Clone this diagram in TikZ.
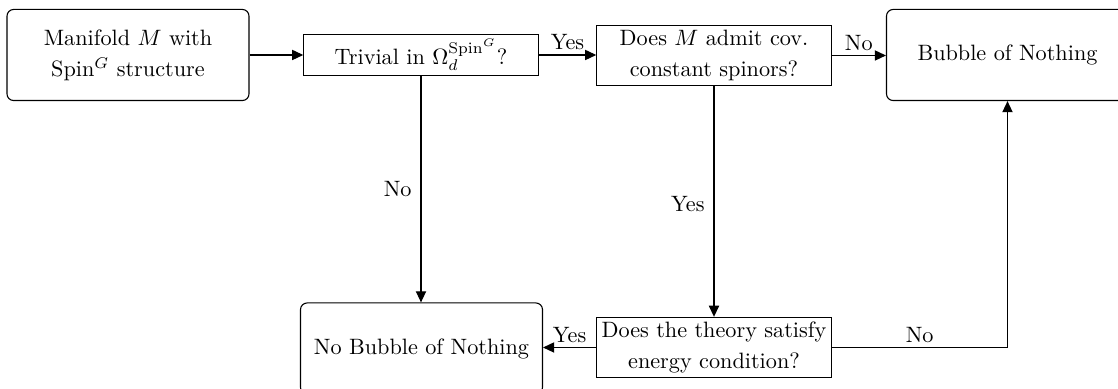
\documentclass[tikz,border=0pt]{standalone}
\usetikzlibrary{arrows.meta}
\begin{document}
\begin{tikzpicture}[x=0.45pt,y=-0.45pt,
  every node/.style={font={\fontsize{10}{14}\selectfont}},
  endbox/.style={draw, rounded corners=3pt, align=center, minimum width=108.9pt, minimum height=41pt, inner sep=2pt, line width=0.5pt},
  askbox/.style={draw, align=center, minimum width=105.5pt, inner sep=2pt, line width=0.5pt},
  conn/.style={line width=0.5pt, -{Triangle[length=5pt,width=4.6pt]}},
  lbl/.style={inner sep=2pt}]
\useasboundingbox (0,0) rectangle (1118,389);
\node[endbox] (start) at (128,55) {Manifold $M$ with\\ Spin$^G$ structure};
\node[askbox, minimum height=18.5pt] (triv) at (421,55) {Trivial in $\Omega_d^{\mathrm{Spin}^G}$?};
\node[askbox, minimum height=26.5pt] (spin) at (714,55.5) {Does $M$ admit cov.\\ constant spinors?};
\node[endbox] (bon) at (1007.5,55) {Bubble of Nothing};
\node[endbox] (nobon) at (421.5,348.5) {No Bubble of Nothing};
\node[askbox, minimum height=26.5pt] (energy) at (714,347.5) {Does the theory satisfy\\ energy condition?};
\draw[conn] (start) -- (triv);
\draw[conn] (triv) -- node[above, lbl] {Yes} (triv -| spin.west);
\draw[conn] (spin) -- node[above, lbl] {No} (spin -| bon.west);
\draw[conn] (triv.south) -- node[left, lbl, xshift=-2pt] {No} (triv.south |- nobon.north);
\draw[conn] (spin.south) -- node[left, lbl, xshift=-2pt, yshift=-1pt] {Yes} (spin.south |- energy.north);
\draw[conn] (energy.west) -- node[above, lbl] {Yes} (energy.west -| nobon.east);
\draw[conn] (energy.east) -| node[pos=0.25, above, lbl] {No} (bon.south);
\end{tikzpicture}
\end{document}
